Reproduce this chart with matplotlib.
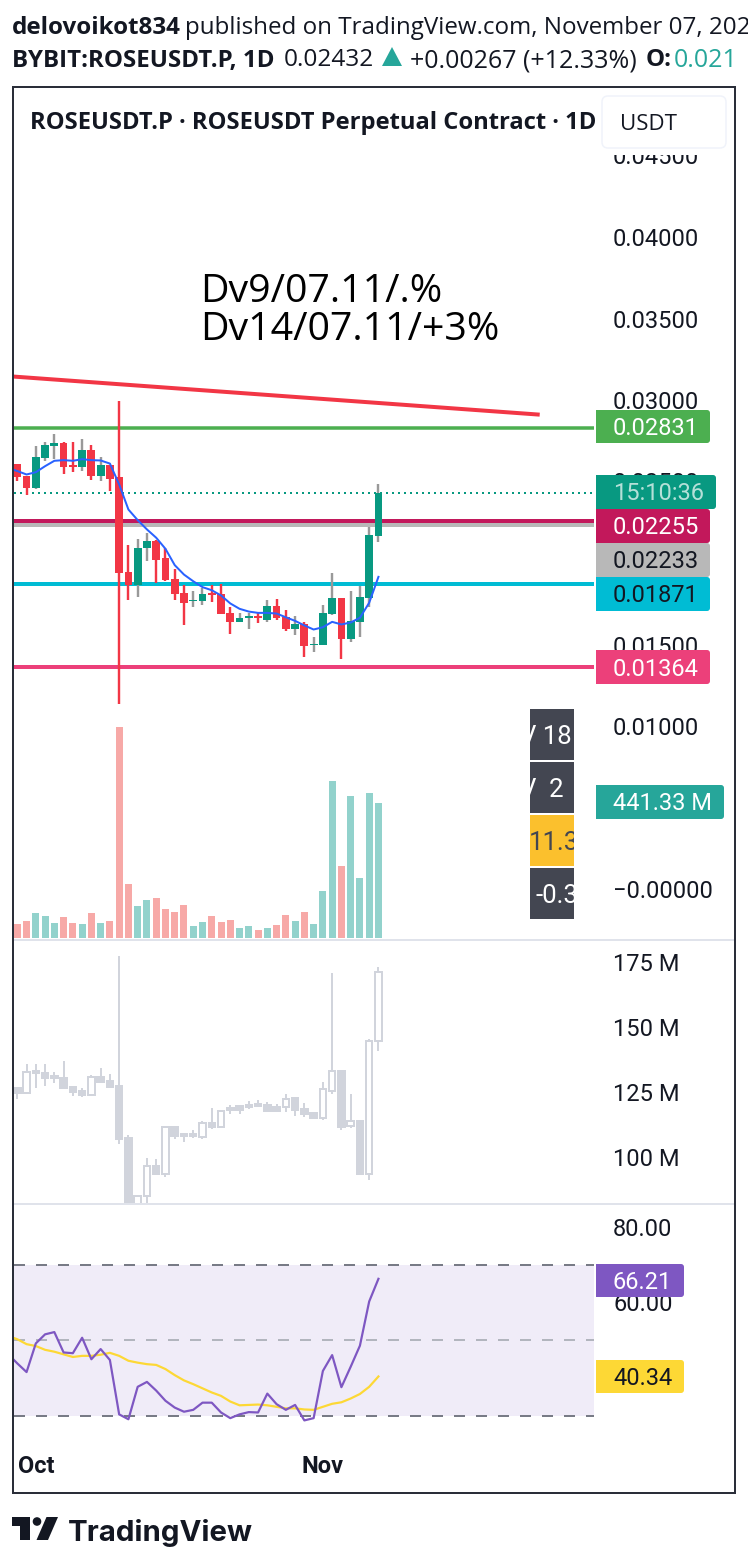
import matplotlib
matplotlib.use("Agg")
import matplotlib.pyplot as plt
from matplotlib.patches import Rectangle, FancyBboxPatch, Polygon, Circle

W, H = 748, 1566

# price candles, Sep 29 -> Nov 7 (values x 1e-3)
opens = [26.10, 25.31, 24.63, 26.47, 27.15, 27.39, 26.04, 25.86, 26.96, 25.31, 26.04, 25.25, 19.42, 18.68, 20.89,
         21.32, 20.28, 18.99, 18.13, 17.64, 17.64, 18.13, 18.07, 16.96, 16.35, 16.60, 16.72, 16.53, 17.39, 16.66,
         15.98, 16.23, 14.94, 14.94, 16.90, 17.88, 15.31, 16.41, 17.88, 21.63]
highs = [26.10, 25.31, 27.15, 27.45, 27.94, 27.45, 27.45, 27.58, 27.21, 26.53, 26.04, 29.91, 21.13, 21.50, 21.81,
         21.44, 20.95, 19.66, 18.62, 18.31, 18.44, 18.68, 18.74, 17.27, 16.96, 16.96, 16.96, 17.70, 17.82, 17.09,
         16.72, 16.41, 15.43, 17.45, 19.36, 17.88, 18.31, 18.56, 22.18, 24.82]
lows = [25.00, 24.20, 24.57, 26.23, 26.41, 25.49, 25.61, 25.67, 25.12, 25.06, 24.39, 11.32, 17.76, 17.94, 20.15,
        18.80, 18.87, 17.76, 16.17, 17.33, 17.45, 17.58, 16.90, 15.67, 16.35, 15.98, 16.29, 16.41, 16.53, 15.80,
        15.61, 14.26, 14.51, 14.94, 16.84, 14.08, 15.18, 15.49, 17.27, 21.26]
closes = [25.25, 24.63, 26.53, 27.21, 27.39, 25.92, 25.92, 26.96, 25.31, 26.04, 25.18, 19.36, 18.68, 20.95, 21.32,
          20.21, 18.93, 18.07, 17.52, 17.76, 18.07, 18.01, 16.90, 16.35, 16.60, 16.72, 16.60, 17.39, 16.60, 15.98,
          16.23, 14.88, 15.06, 16.96, 17.88, 15.31, 16.47, 17.94, 21.69, 24.32]
# the overlay lines start one bar before the first visible candle
ma_line = [25.83, 25.64, 25.43, 25.57, 25.94, 26.27, 26.31, 26.27, 26.37, 26.31, 26.29, 26.10, 24.82, 23.28, 22.63,
           22.06, 21.55, 20.87, 19.87, 19.29, 18.88, 18.52, 18.33, 18.01, 17.52, 17.19, 17.02, 16.94, 16.94, 16.90,
           16.67, 16.45, 16.17, 15.92, 16.06, 16.39, 16.23, 16.35, 16.64, 17.56, 19.15]
volumes = [45.4, 55.2, 81.1, 71.4, 48.7, 68.1, 48.7, 45.4, 81.1, 48.7, 55.2, 688.0, 175.2, 103.8, 123.3, 129.8, 94.1,
           84.4, 107.1, 38.9, 51.9, 71.4, 51.9, 58.4, 32.5, 38.9, 26.0, 32.5, 42.2, 74.6, 55.2, 84.4, 45.4, 152.5,
           512.7, 233.6, 464.0, 194.7, 473.8, 441.33]

# open interest candles (millions)
oi_open = [126.5, 124.6, 132.3, 132.3, 131.2, 130.4, 126.9, 125.4, 123.8, 130.8, 129.2, 127.3, 107.3, 78.0, 85.0,
           96.5, 93.5, 111.5, 108.8, 108.1, 107.7, 113.1, 111.5, 118.1, 119.6, 119.2, 119.6, 120.0, 119.2, 119.2,
           122.7, 118.5, 116.9, 115.0, 125.4, 133.1, 111.9, 113.8, 93.5, 144.6]
oi_high = [126.5, 135.8, 135.8, 135.8, 132.7, 136.9, 126.9, 126.5, 131.5, 134.2, 131.9, 177.3, 108.5, 85.0, 99.6,
           99.2, 111.5, 111.5, 108.8, 110.4, 113.8, 118.8, 118.1, 120.0, 120.0, 121.5, 121.9, 121.2, 120.4, 124.2,
           123.1, 120.8, 116.9, 128.8, 170.8, 133.5, 124.2, 113.8, 145.4, 173.1]
oi_low = [122.3, 124.6, 126.5, 127.3, 128.5, 126.2, 123.5, 123.1, 123.8, 128.8, 126.5, 105.0, 78.0, 78.0, 81.5,
          93.1, 92.3, 106.9, 105.8, 107.3, 106.9, 110.8, 111.5, 116.5, 116.5, 118.5, 119.2, 117.7, 117.7, 117.3,
          115.8, 115.4, 114.6, 114.2, 124.2, 110.4, 111.2, 93.5, 91.2, 140.8]
oi_close = [124.6, 132.7, 133.1, 130.4, 130.4, 126.5, 125.0, 123.8, 130.8, 128.8, 126.9, 106.9, 78.0, 85.0, 96.5,
            93.5, 111.5, 108.1, 108.1, 108.8, 113.1, 111.5, 117.7, 118.8, 118.1, 120.0, 120.4, 117.7, 117.7, 122.3,
            118.1, 116.5, 115.0, 126.2, 133.1, 111.5, 113.8, 93.5, 144.6, 171.2]

rsi = [46.3, 43.8, 41.5, 49.1, 51.5, 52.1, 46.7, 46.5, 50.6, 44.9, 47.6, 44.7, 30.3, 29.0, 37.6, 38.9, 36.6, 33.9,
       32.1, 31.0, 31.5, 33.4, 33.4, 30.8, 29.3, 30.3, 30.9, 30.8, 35.8, 33.0, 31.5, 32.8, 28.7, 29.3, 41.8, 46.0,
       37.5, 42.9, 48.5, 60.2, 66.21]
rsi_ma = [51.1, 50.2, 48.9, 48.4, 47.4, 46.9, 46.2, 45.5, 45.8, 45.8, 46.1, 46.6, 45.8, 44.5, 44.0, 43.6, 43.4, 42.3,
          40.7, 39.3, 38.3, 37.2, 36.1, 35.2, 33.7, 32.7, 32.8, 32.9, 32.7, 32.3, 31.9, 31.9, 31.6, 31.5, 32.3, 33.1,
          33.5, 34.5, 35.7, 37.6, 40.34]

# 0.005, 0.02 and 40 sit fully behind the badges, so they are left out
price_ticks = [0, 0.01, 0.015, 0.025, 0.03, 0.035, 0.04, 0.045]
oi_ticks = [100, 125, 150, 175]
rsi_ticks = [60, 80]
rsi_levels = [30, 50, 70]

current_price = 0.02432
level_green = 0.02831
level_crimson = 0.02255
level_grey = 0.02233
level_cyan = 0.01871
level_pink = 0.01364
trend_x = [-0.46, 56.2]
trend_y = [0.03144, 0.02911]

month_pos = [2, 33]
month_labels = ["Oct", "Nov"]

TEAL = "#089981"
RED = "#f23645"
DARK = "#131722"
FRAME = "#2a2e39"
PX = 0.72  # linewidth points per pixel


def box(x0, y0, x1, y1):
    return [x0 / W, 1 - y1 / H, (x1 - x0) / W, (y1 - y0) / H]


def clean(ax):
    for s in ax.spines.values():
        s.set_visible(False)
    ax.yaxis.tick_right()
    ax.tick_params(axis="y", length=0, pad=13.7, labelsize=17, labelcolor=DARK)
    ax.tick_params(axis="x", length=0)
    ax.set_xticks([])
    ax.set_xlim((14 - 17.3) / 9.26, (594 - 17.3) / 9.26)
    for lab in ax.get_yticklabels():
        lab.set_family("Roboto")


plt.rcParams["font.family"] = ["Open Sans", "DejaVu Sans"]
fig = plt.figure(figsize=(W / 100, H / 100), dpi=100, facecolor="white")
idx = list(range(len(closes)))
line_idx = list(range(-1, len(closes)))

# price pane + volume behind it
ax = fig.add_axes(box(14, 155, 594, 940))
ax_vol = ax.twinx()
ax.set_zorder(2)
ax_vol.set_zorder(1)
ax.patch.set_visible(False)
ax.set_ylim((889 - 940) / 16300, (889 - 155) / 16300)
ax_vol.set_ylim(-6.5, 2557)

vol_cols = ["#92d2cc" if c >= o else "#f7a9a7" for o, c in zip(opens, closes)]
ax_vol.bar(idx, volumes, width=0.76, color=vol_cols)
ax_vol.set_yticks([])
for s in ax_vol.spines.values():
    s.set_visible(False)

ax.axhline(level_green, color="#4caf50", lw=3.5 * PX, zorder=1)
ax.axhline(level_grey, color="#b8b8b8", lw=4 * PX, zorder=1)
ax.axhline(level_crimson, color="#c2185b", lw=4 * PX, zorder=1)
ax.axhline(level_cyan, color="#00bcd4", lw=4 * PX, zorder=1)
ax.axhline(level_pink, color="#ec407a", lw=4 * PX, zorder=1)
ax.axhline(current_price, color=TEAL, lw=2 * PX, ls=(0, (1, 2)), zorder=1)
ax.plot(trend_x, trend_y, color=RED, lw=4 * PX, zorder=1)

for i in idx:
    up = closes[i] >= opens[i]
    ax.vlines(i, lows[i] / 1000, highs[i] / 1000, color="#999999" if up else RED, lw=2.4 * PX, zorder=3)
    ax.bar(i, abs(closes[i] - opens[i]) / 1000, bottom=min(opens[i], closes[i]) / 1000, width=0.84,
           color=TEAL if up else RED, zorder=4)
ax.plot(line_idx, [v / 1000 for v in ma_line], color="#2962ff", lw=2 * PX, zorder=5)

ax.set_yticks(price_ticks)
ax.set_yticklabels(["\u22120.00000" if v == 0 else f"{v:.5f}" for v in price_ticks])
clean(ax)

# open interest pane
ax_oi = fig.add_axes(box(14, 941, 594, 1203))
ax_oi.set_ylim(100 + (1157 - 1203) / 2.6, 100 + (1157 - 941) / 2.6)
OI_COL = "#d1d4dc"
for i in idx:
    ax_oi.vlines(i, oi_low[i], oi_high[i], color=OI_COL, lw=2 * PX, zorder=2)
    up = oi_close[i] >= oi_open[i]
    ax_oi.bar(i, abs(oi_close[i] - oi_open[i]), bottom=min(oi_open[i], oi_close[i]), width=0.7,
              facecolor="white" if up else OI_COL, edgecolor=OI_COL, linewidth=2 * PX, zorder=3)
ax_oi.set_yticks(oi_ticks)
ax_oi.set_yticklabels([f"{v} M" for v in oi_ticks])
clean(ax_oi)

# rsi pane
ax_rsi = fig.add_axes(box(14, 1205, 594, 1450))
ax_rsi.set_ylim(50 - 110 / 3.775, 50 + 135 / 3.775)
ax_rsi.axhspan(rsi_levels[0], rsi_levels[2], color="#f0ecf8", lw=0, zorder=1)
for lev, col in zip(rsi_levels, ["#787b86", "#b2b5be", "#787b86"]):
    ax_rsi.axhline(lev, color=col, lw=2 * PX, ls=(0, (5.5, 5.5)), zorder=2)
ax_rsi.plot(line_idx, rsi_ma, color="#fdd835", lw=2.2 * PX, zorder=3)
ax_rsi.plot(line_idx, rsi, color="#7e57c2", lw=2.2 * PX, zorder=4)
ax_rsi.set_yticks(rsi_ticks)
ax_rsi.set_yticklabels([f"{v:.2f}" for v in rsi_ticks])
clean(ax_rsi)
ax_rsi.set_xticks(month_pos)
ax_rsi.set_xticklabels(month_labels, family="Roboto", fontweight="bold", fontsize=17, color=DARK)
ax_rsi.tick_params(axis="x", pad=3.5)

# overlay in pixel coords: frame, header, badges, logo
ov = fig.add_axes([0, 0, 1, 1], zorder=10)
ov.set_xlim(0, W)
ov.set_ylim(H, 0)
ov.axis("off")
ov.patch.set_visible(False)


def txt(x, y, s, size=17.4, color=DARK, weight="normal", family="Open Sans", ha="left", clip=None):
    t = ov.text(x, y, s, fontsize=size, color=color, fontweight=weight, family=family, ha=ha, va="center_baseline")
    if clip is not None:
        t.set_clip_on(True)
        t.set_clip_path(clip)
    return t


def badge(x0, y0, x1, y1, col, s, tcol="white"):
    ov.add_patch(FancyBboxPatch((x0 + 3, y0 + 3), x1 - x0 - 6, y1 - y0 - 6, boxstyle="round,pad=3,rounding_size=3",
                                fc=col, ec="none", zorder=5))
    ov.add_patch(Rectangle((x0, y0), 6, y1 - y0, fc=col, ec="none", zorder=5))
    t = txt(613, (y0 + y1) / 2 - 0.5, s, size=17, color=tcol, family="Roboto")
    t.set_zorder(6)


ov.add_patch(Rectangle((14, 88), 720, 67, fc="white", ec="none", zorder=1))
ov.add_patch(Rectangle((13, 87), 722, 1406, fc="none", ec=FRAME, lw=2 * PX, zorder=2))
ov.plot([14, 734], [940, 940], color="#e0e3eb", lw=2 * PX, zorder=1)
ov.plot([14, 734], [1204, 1204], color="#e0e3eb", lw=2 * PX, zorder=1)

txt(12, 24.5, "delovoikot834", weight="bold")
txt(185, 24.5, "published on TradingView.com, November 07, 202")
txt(12, 57.5, "BYBIT:ROSEUSDT.P, 1D", weight="bold")
txt(284, 57.5, "0.02432", size=17.6)
ov.add_patch(Polygon([[382, 66], [402, 66], [392, 47]], fc="#26a69a", ec="none"))
txt(410, 57.5, "+0.00267 (+12.33%)", size=18)
txt(646, 57.5, "O:", weight="bold")
txt(674, 57.5, "0.021", color="#26a69a", size=18)

txt(30.5, 120, "ROSEUSDT.P \u00b7 ROSEUSDT Perpetual Contract \u00b7 1D", weight="bold", size=17.1)
ov.add_patch(FancyBboxPatch((606, 100), 116, 44, boxstyle="round,pad=4,rounding_size=6", fc="white", ec="#f0f3fa",
                            lw=1.5 * PX, zorder=3))
txt(620, 122, "USDT", size=16).set_zorder(4)

txt(200, 287, "Dv9/07.11/.%", size=28.3, color="black")
txt(200, 326, "Dv14/07.11/+3%", size=28.3, color="black")

# cut off indicator values at the left of the price scale
for (y0, y1, col, s, x, tcol) in [(709, 760, "#434651", "V 18", 520, "white"),
                                  (762, 813, "#434651", "V  2", 520, "white"),
                                  (815, 866, "#fbc02d", "11.3", 529, "#434651"),
                                  (868, 919, "#434651", "-0.3", 536, "white")]:
    r = Rectangle((530, y0), 44, y1 - y0, fc=col, ec="none", zorder=3)
    ov.add_patch(r)
    t = txt(x, (y0 + y1) / 2, s, size=18.5, color=tcol, family="Roboto", clip=r)
    t.set_zorder(4)

badge(596, 410, 710, 443, "#4caf50", "0.02831")
badge(596, 475, 716, 509, TEAL, "15:10:36", "#b5e0d8")
badge(596, 509, 710, 543, "#c2185b", "0.02255")
badge(596, 543, 710, 577, "#b8b8b8", "0.02233", DARK)
badge(596, 577, 710, 611, "#00bcd4", "0.01871", DARK)
badge(596, 650, 710, 684, "#ec407a", "0.01364")
badge(596, 785, 724, 819, "#26a69a", "441.33 M")
badge(596, 1264, 684, 1297, "#7e57c2", "66.21")
badge(596, 1360, 684, 1393, "#fdd835", "40.34", DARK)

# logo
ov.add_patch(Polygon([[12, 1517], [30, 1517], [30, 1540], [20, 1540], [20, 1526], [12, 1526]], fc=DARK, ec="none"))
ov.add_patch(Circle((37, 1521.5), 4.3, fc=DARK, ec="none"))
ov.add_patch(Polygon([[46.5, 1517], [58, 1517], [48, 1540], [36.5, 1540]], fc=DARK, ec="none"))
txt(68, 1530, "TradingView", size=21.2, weight="bold", family="Inter")

fig.savefig("out.png", dpi=100)
